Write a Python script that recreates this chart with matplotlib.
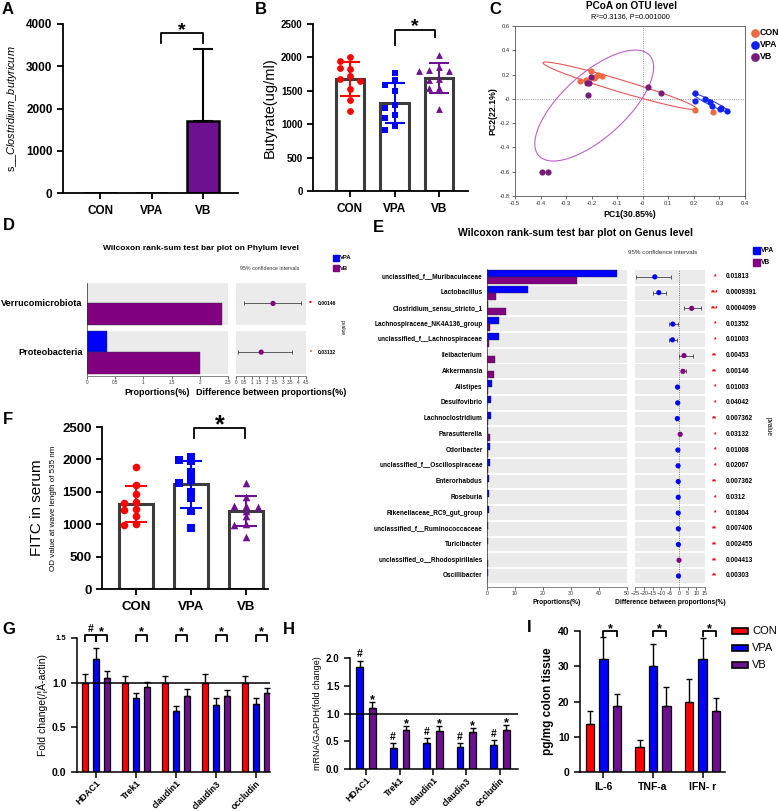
import numpy as np
import matplotlib
matplotlib.use("Agg")
import matplotlib.pyplot as plt
import matplotlib.transforms as mtransforms

plt.rcParams['font.family'] = ['Liberation Sans', 'DejaVu Sans']
plt.rcParams['mathtext.fontset'] = 'custom'
plt.rcParams['mathtext.rm'] = 'Liberation Sans'
plt.rcParams['mathtext.it'] = 'Liberation Sans:italic'

W, H = 778, 811
RED = '#FF0000'
BLUE = '#0000FF'
PURPLE = '#6E1190'
STAMP_PURPLE = '#800080'
DARK = '#3C3C3C'

# ---- data ----
groups = ['CON', 'VPA', 'VB']

# A: s__Clostridium_butyricum
clos_mean = [0, 0, 1700]
clos_sd = [0, 0, 1700]

# B: butyrate (ug/ml)
but_con = [2000, 1945, 1825, 1845, 1720, 1675, 1645, 1520, 1360, 1200]
but_vpa = [1770, 1660, 1585, 1500, 1285, 1240, 1140, 1090, 980, 915]
but_vb = [2035, 1860, 1810, 1800, 1800, 1670, 1660, 1535, 1535, 1230]

# C: PCoA
pc_con_x = [-0.244, -0.224, -0.201, -0.192, -0.176, -0.158, -0.186, 0.205, 0.276]
pc_con_y = [0.145, 0.159, 0.227, 0.173, 0.200, 0.189, 0.180, -0.090, -0.110]
pc_vpa_x = [0.205, 0.205, 0.244, 0.263, 0.269, 0.301, 0.308, 0.331]
pc_vpa_y = [0.049, -0.014, -0.005, -0.022, -0.058, -0.082, -0.074, -0.104]
pc_vb_x = [-0.201, -0.218, -0.209, -0.214, 0.022, 0.071, -0.394, -0.372]
pc_vb_y = [0.184, 0.129, 0.134, 0.033, 0.101, 0.049, -0.605, -0.605]
# ellipse: centre, vector to right-most point, vertical half-span
ell_center = [(-0.09, 0.108), (0.268, -0.034), (-0.19, -0.055)]
ell_major = [(0.30, -0.188), (0.072, -0.0755), (0.2325, 0.315)]
ell_vert = [0.052, 0.022, 0.331]

# D: phylum level
phyla = ['Verrucomicrobiota', 'Proteobacteria']
phy_vpa = [0.0, 0.36]
phy_vb = [2.39, 2.0]
phy_diff = [2.38, 1.62]
phy_lo = [0.50, 0.15]
phy_hi = [4.20, 3.60]
phy_p = [0.00146, 0.03132]

# E: genus level
genera = ['unclassified_f__Muribaculaceae', 'Lactobacillus', 'Clostridium_sensu_stricto_1',
          'Lachnospiraceae_NK4A136_group', 'unclassified_f__Lachnospiraceae', 'Ileibacterium',
          'Akkermansia', 'Alistipes', 'Desulfovibrio', 'Lachnoclostridium', 'Parasutterella',
          'Odoribacter', 'unclassified_f__Oscillospiraceae', 'Enterorhabdus', 'Roseburia',
          'Rikenellaceae_RC9_gut_group', 'unclassified_f__Ruminococcaceae', 'Turicibacter',
          'unclassified_o__Rhodospirillales', 'Oscillibacter']
gen_vpa = [46.4, 14.8, 0.2, 4.3, 4.2, 0.1, 0.1, 1.8, 1.4, 1.5, 0.3, 1.1, 0.9, 0.8, 0.7, 0.7, 0.4, 0.3, 0.1, 0.2]
gen_vb = [32.0, 3.1, 6.9, 1.0, 0.7, 2.8, 2.4, 0.5, 0.1, 0.2, 1.2, 0.3, 0.2, 0.1, 0.1, 0.05, 0.05, 0.02, 0.2, 0.05]
gen_diff = [-13.7, -11.4, 7.4, -3.4, -3.6, 3.0, 2.4, -0.7, -0.6, -0.8, 0.8, -0.5, -0.4, -0.3, -0.3, -0.3,
            -0.2, -0.2, 0.15, -0.15]
gen_lo = [-24.6, -15.0, 2.9, -5.6, -5.8, 0.4, 1.2, -1.2, -1.0, -1.3, 0.4, -0.9, -0.7, -0.6, -0.5, -0.5,
          -0.4, -0.3, 0.05, -0.3]
gen_hi = [-4.6, -7.4, 12.6, -0.6, -1.0, 8.4, 4.2, -0.3, -0.2, -0.3, 1.2, -0.1, -0.1, -0.05, -0.1, -0.1,
          -0.05, -0.05, 0.3, -0.02]
gen_p = [0.01813, 0.0009391, 0.0004099, 0.01352, 0.01003, 0.00453, 0.00146, 0.01003, 0.04042, 0.007362,
         0.03132, 0.01008, 0.02067, 0.007362, 0.0312, 0.01804, 0.007406, 0.002455, 0.004413, 0.00303]

# F: FITC in serum
fitc_con = [1880, 1600, 1460, 1340, 1330, 1230, 1220, 1120, 1000, 980]
fitc_vpa = [2040, 1990, 1970, 1810, 1680, 1640, 1500, 1400, 1210, 940]
fitc_vb = [1640, 1420, 1280, 1280, 1270, 1200, 1120, 1000, 990, 810]

# G: protein fold change
genes = ['HDAC1', 'Trek1', 'claudin1', 'claudin3', 'occludin']
g_con = [1.0, 1.0, 1.0, 1.0, 1.0]
g_con_err = [0.10, 0.07, 0.07, 0.10, 0.08]
g_vpa = [1.27, 0.83, 0.68, 0.75, 0.76]
g_vpa_err = [0.12, 0.05, 0.06, 0.08, 0.07]
g_vb = [1.05, 0.95, 0.85, 0.85, 0.88]
g_vb_err = [0.08, 0.06, 0.08, 0.07, 0.06]

# H: mRNA fold change
h_vpa = [1.83, 0.37, 0.46, 0.40, 0.43]
h_vpa_err = [0.12, 0.10, 0.09, 0.07, 0.09]
h_vb = [1.10, 0.70, 0.69, 0.67, 0.71]
h_vb_err = [0.11, 0.07, 0.08, 0.07, 0.08]

# I: cytokines
cytokines = ['IL-6', 'TNF-a', 'IFN- r']
i_con = [13.5, 7.0, 20.0]
i_con_err = [3.7, 2.2, 6.3]
i_vpa = [32.0, 30.0, 32.0]
i_vpa_err = [6.4, 6.2, 6.1]
i_vb = [18.7, 18.8, 17.4]
i_vb_err = [3.5, 5.4, 3.6]


# ---- helpers ----
fig = plt.figure(figsize=(W / 100, H / 100), dpi=100)


def fx(x):
    return x / W


def fy(y):
    return 1 - y / H


def add_ax(x0, y0, x1, y1):
    return fig.add_axes([x0 / W, 1 - y1 / H, (x1 - x0) / W, (y1 - y0) / H])


def panel_label(ch, x, y):
    fig.text(fx(x), fy(y), ch, fontsize=12, fontweight='bold', va='top', ha='left')


def prism(ax, lw=1.3, length=4):
    for s in ['top', 'right']:
        ax.spines[s].set_visible(False)
    for s in ['left', 'bottom']:
        ax.spines[s].set_linewidth(lw)
    ax.tick_params(direction='out', width=lw, length=length)


def mark(ax, x, y, text, fs, d_px, centre=0.575):
    # put a star / hash so that its middle sits d_px pixels above (x, y)
    off = d_px * 0.72 - centre * fs
    ax.annotate(text, (x, y), xytext=(0, off), textcoords='offset points', ha='center', va='baseline',
                fontsize=fs, fontweight='bold', annotation_clip=False)


def bracket(ax, x1, x2, y, yl, yr, text, fs=14, d_px=9, centre=0.575):
    ax.plot([x1, x1, x2, x2], [yl, y, y, yr], color='black', lw=1.3, clip_on=False)
    mark(ax, (x1 + x2) / 2, y, text, fs, d_px, centre)


def swarm(vals, tol, step):
    placed, offs = [], []
    for v in vals:
        for k in [0, -1, 1, -2, 2]:
            if all(abs(v - pv) >= tol or pk != k for pv, pk in placed):
                break
        placed.append((v, k))
        offs.append(k * step)
    return np.array(offs)


def dot_bar(ax, data, width, step, tol, ms, cap):
    markers = ['o', 's', '^']
    colors = [RED, BLUE, PURPLE]
    for i, vals in enumerate(data):
        vals = np.asarray(vals, float)
        mean, sd = vals.mean(), vals.std(ddof=1)
        ax.bar(i, mean, width=width, color='white', edgecolor=DARK, linewidth=2.2, zorder=1)
        ax.scatter(i + swarm(vals, tol, step), vals, marker=markers[i], color=colors[i], s=ms,
                   zorder=3, linewidths=0)
        ax.errorbar(i, mean, yerr=sd, color=colors[i], capsize=cap, capthick=1.5, elinewidth=1.5, zorder=4)


def stars(p):
    return '***' if p < 0.001 else ('**' if p < 0.01 else '*')


def stamp(ax_b, ax_d, names, vpa, vb, diff, lo, hi, pv, fs_name, fs_tick, fs_p, p_x, star_x, pl_x):
    n = len(names)
    y = np.arange(n)
    for ax in (ax_b, ax_d):
        for i in y:
            ax.axhspan(i - 0.44, i + 0.44, color='#EBEBEB', lw=0, zorder=0)
        for s in ['top', 'right', 'left']:
            ax.spines[s].set_visible(False)
        ax.spines['bottom'].set_linewidth(0.5)
        ax.spines['bottom'].set_color('#555555')
        ax.tick_params(axis='x', labelsize=fs_tick, length=2, width=0.5, pad=1, colors='#333333')
        ax.set_yticks([])
    ax_b.axvline(0, color='#333333', lw=0.5)
    ax_b.barh(y - 0.22, vpa, height=0.44, color=BLUE, edgecolor='#333333', lw=0.3)
    ax_b.barh(y + 0.22, vb, height=0.44, color=STAMP_PURPLE, edgecolor='#333333', lw=0.3)
    trb = mtransforms.blended_transform_factory(ax_b.transAxes, ax_b.transData)
    for i in y:
        ax_b.text(-0.03, i, names[i], transform=trb, ha='right', va='center', fontsize=fs_name,
                  fontweight='bold')
    diff = np.asarray(diff)
    cols = [STAMP_PURPLE if d > 0 else BLUE for d in diff]
    ax_d.errorbar(diff, y, xerr=[diff - np.asarray(lo), np.asarray(hi) - diff], fmt='none',
                  ecolor='#444444', elinewidth=0.6, capsize=1.5, capthick=0.6, zorder=2)
    ax_d.scatter(diff, y, color=cols, s=14, zorder=3, linewidths=0)
    tr = mtransforms.blended_transform_factory(ax_d.transAxes, ax_d.transData)
    for i in y:
        ax_d.text(star_x, i, stars(pv[i]), transform=tr, color=RED, fontsize=fs_p, fontweight='bold',
                  ha='center', va='center')
        ax_d.text(p_x, i, '%g' % pv[i], transform=tr, fontsize=fs_p, fontweight='bold',
                  ha='left', va='center')
    ax_d.text(pl_x, (n - 1) / 2, 'pvalue', transform=tr, rotation=270, fontsize=fs_p, ha='center', va='center')


def bold_ticks(ax):
    for tl in ax.get_xticklabels() + ax.get_yticklabels():
        tl.set_fontweight('bold')


# ---- A ----
panel_label('A', 2, 2)
ax = add_ax(63, 24, 238, 193)
prism(ax)
x = np.arange(3)
ax.bar(x, clos_mean, width=0.64, color=['white', 'white', PURPLE], edgecolor='black', linewidth=1.8)
ax.errorbar(2, clos_mean[2], yerr=[[0], [clos_sd[2]]], color='black', capsize=7, capthick=1.5, elinewidth=1.5)
ax.set_xlim(-0.72, 2.68)
ax.set_ylim(0, 4000)
ax.set_yticks(range(0, 4001, 1000))
ax.set_xticks(x, groups)
bold_ticks(ax)
ax.tick_params(axis='y', labelsize=8.5)
ax.tick_params(axis='x', labelsize=8.5, pad=5)
ax.set_ylabel(r's__$\mathit{Clostridium\_butyricum}$', fontsize=7.8, labelpad=5)
bracket(ax, 1.18, 2.0, 3790, 3550, 3550, '*', fs=14, d_px=9)

# ---- B ----
panel_label('B', 255, 2)
ax = add_ax(313, 24, 468, 191)
prism(ax)
dot_bar(ax, [but_con, but_vpa, but_vb], width=0.63, step=0.22, tol=90, ms=24, cap=7)
ax.set_xlim(-0.83, 2.65)
ax.set_ylim(0, 2500)
ax.set_yticks(range(0, 2501, 500))
ax.set_xticks(x, groups)
bold_ticks(ax)
ax.tick_params(axis='y', labelsize=7)
ax.tick_params(axis='x', labelsize=8.5, pad=5)
ax.set_ylabel('Butyrate(ug/ml)', fontsize=10.5, labelpad=3)
bracket(ax, 1.0, 1.91, 2410, 2186, 2305, '*', fs=14, d_px=10)

# ---- C ----
panel_label('C', 489, 2)
ax = add_ax(515, 26, 745, 196)
for s in ax.spines.values():
    s.set_linewidth(0.6)
    s.set_color('#555555')
ax.axhline(0, color='#777777', lw=0.6, ls=':')
ax.axvline(0, color='#777777', lw=0.6, ls=':')
t = np.linspace(0, 2 * np.pi, 300)
pc_cols = ['#EE6A40', '#1020F0', '#7A1A7A']
ell_cols = ['#EE5555', '#3344EE', '#C060C8']
for (cx, cy), (ux, uy), hv, ec in zip(ell_center, ell_major, ell_vert, ell_cols):
    ax.plot(cx + ux * np.cos(t), cy + uy * np.cos(t) + hv * np.sin(t), color=ec, lw=0.8)
for xs, ys, c, lab in zip([pc_con_x, pc_vpa_x, pc_vb_x], [pc_con_y, pc_vpa_y, pc_vb_y], pc_cols, groups):
    ax.scatter(xs, ys, color=c, s=20, linewidths=0, label=lab, zorder=3)
ax.set_xlim(-0.5, 0.4)
ax.set_ylim(-0.8, 0.6)
xt = np.round(np.arange(-0.5, 0.41, 0.1), 1)
yt = np.round(np.arange(-0.8, 0.61, 0.2), 1)
ax.set_xticks(xt, ['%g' % v for v in xt])
ax.set_yticks(yt, ['%g' % v for v in yt])
ax.tick_params(labelsize=4.2, length=2, width=0.5, pad=1.5, colors='#333333')
ax.set_xlabel('PC1(30.85%)', fontsize=6.3, fontweight='bold', labelpad=3)
ax.set_ylabel('PC2(22.1%)', fontsize=6.3, fontweight='bold', labelpad=2)
ax.set_title('R²=0.3136, P=0.001000', fontsize=5.3, pad=6)
fig.text(fx(632), fy(6), 'PCoA on OTU level', fontsize=7.2, fontweight='bold', ha='center', va='center')
leg = ax.legend(loc='upper left', bbox_to_anchor=(1.0, 1.02), frameon=False, fontsize=6.3,
                handletextpad=0.1, borderaxespad=0.2, labelspacing=0.35, markerscale=1.4, handlelength=1.0)
for txt in leg.get_texts():
    txt.set_fontweight('bold')

# ---- D ----
panel_label('D', 3, 218)
fig.text(fx(201), fy(248), 'Wilcoxon rank-sum test bar plot on Phylum level', fontsize=6, fontweight='bold',
         ha='center', va='center')
fig.text(fx(270), fy(268), '95% confidence intervals', fontsize=3.8, ha='center', va='center', color='#333333')
for yy, c, lab in [(258, BLUE, 'VPA'), (268, STAMP_PURPLE, 'VB')]:
    fig.patches.append(plt.Rectangle((fx(333), fy(yy + 3)), 6 / W, 6 / H, color=c, transform=fig.transFigure))
    fig.text(fx(340), fy(yy), lab, fontsize=4.2, fontweight='bold', va='center')
axb = add_ax(87, 283, 228, 376)
axd = add_ax(236, 283, 306, 376)
stamp(axb, axd, phyla, phy_vpa, phy_vb, phy_diff, phy_lo, phy_hi, phy_p,
      fs_name=6.6, fs_tick=3.3, fs_p=3.6, p_x=1.17, star_x=1.07, pl_x=1.52)
axb.set_xlim(0, 2.5)
axb.set_xticks(np.arange(0, 2.51, 0.5), ['%g' % v for v in np.arange(0, 2.51, 0.5)])
axb.set_ylim(1.49, -0.42)
axd.set_xlim(0, 4.5)
axd.set_xticks(np.arange(0, 4.51, 0.5), ['%g' % v for v in np.arange(0, 4.51, 0.5)])
axd.set_ylim(1.49, -0.42)
axb.set_xlabel('Proportions(%)', fontsize=6.5, fontweight='bold', labelpad=2)
axd.set_xlabel('Difference between proportions(%)', fontsize=6.5, fontweight='bold', labelpad=2)

# ---- E ----
panel_label('E', 373, 220)
fig.text(fx(575), fy(233), 'Wilcoxon rank-sum test bar plot on Genus level', fontsize=7.5, fontweight='bold',
         ha='center', va='center')
fig.text(fx(663), fy(252), '95% confidence intervals', fontsize=4.5, ha='center', va='center', color='#333333')
for yy, c, lab in [(250, BLUE, 'VPA'), (262, STAMP_PURPLE, 'VB')]:
    fig.patches.append(plt.Rectangle((fx(753), fy(yy + 3.5)), 7 / W, 7 / H, color=c, transform=fig.transFigure))
    fig.text(fx(761), fy(yy), lab, fontsize=4.8, fontweight='bold', va='center')
axb = add_ax(487, 269, 627, 587)
axd = add_ax(635, 269, 705, 587)
stamp(axb, axd, genera, gen_vpa, gen_vb, gen_diff, gen_lo, gen_hi, gen_p,
      fs_name=4.7, fs_tick=3.8, fs_p=4.7, p_x=1.29, star_x=1.14, pl_x=1.9)
axd.axvline(0, color='#555555', lw=0.6, ls=':', zorder=1)
axb.set_xlim(0, 50)
axb.set_xticks(range(0, 51, 10))
axd.set_xlim(-25, 15)
axd.set_xticks(range(-25, 16, 5))
axb.set_ylim(19.7, -0.5)
axd.set_ylim(19.7, -0.5)
axb.set_xlabel('Proportions(%)', fontsize=4.8, fontweight='bold', labelpad=2)
axd.set_xlabel('Difference between proportions(%)', fontsize=4.8, fontweight='bold', labelpad=2)

# ---- F ----
panel_label('F', 3, 412)
ax = add_ax(102, 427, 268, 589)
prism(ax)
dot_bar(ax, [fitc_con, fitc_vpa, fitc_vb], width=0.62, step=0.22, tol=70, ms=30, cap=8)
ax.set_xlim(-0.62, 2.4)
ax.set_ylim(0, 2500)
ax.set_yticks(range(0, 2501, 500))
ax.set_xticks(x, groups)
bold_ticks(ax)
ax.tick_params(axis='y', labelsize=9.5)
ax.tick_params(axis='x', labelsize=9.5, pad=5)
ax.text((37 - 102) / 166, 0.5, 'FITC in serum', transform=ax.transAxes, rotation=90,
        fontsize=11, ha='center', va='center')
ax.text((53 - 102) / 166, 0.5, 'OD value at wave length of 535 nm', transform=ax.transAxes, rotation=90,
        fontsize=5.8, ha='center', va='center')
bracket(ax, 1.05, 1.98, 2485, 2330, 2330, '*', fs=18, d_px=10)

# ---- G ----
panel_label('G', 2, 622)
ax = add_ax(77, 638, 270, 772)
prism(ax, lw=1.1)
xg = np.arange(len(genes))
for off, vals, errs, c in [(-0.275, g_con, g_con_err, RED), (0, g_vpa, g_vpa_err, BLUE),
                           (0.275, g_vb, g_vb_err, PURPLE)]:
    ax.bar(xg + off, vals, width=0.17, color=c, edgecolor='black', lw=0.9)
    ax.errorbar(xg + off, vals, yerr=[np.zeros(len(vals)), errs], fmt='none', ecolor='black',
                elinewidth=1, capsize=2.5, capthick=1)
ax.axhline(1.0, color='black', lw=1.1)
ax.set_xlim(-0.475, 4.35)
ax.set_ylim(0, 1.5)
ax.set_yticks([0, 0.5, 1.0, 1.5], ['0.0', '0.5', '1.0', '1.5'])
ax.set_xticks(xg, genes, rotation=45, ha='right', rotation_mode='anchor')
bold_ticks(ax)
ax.tick_params(axis='y', labelsize=7.5)
ax.tick_params(axis='x', labelsize=6.4, pad=1)
ax.get_yticklabels()[-1].set_fontsize(5.5)
ax.set_ylabel('Fold change(/¦Â-actin)', fontsize=7.5, labelpad=3)
bracket(ax, -0.275, 0, 1.53, 1.47, 1.47, '#', fs=7.5, d_px=7, centre=0.35)
for k in range(len(genes)):
    bracket(ax, k, k + 0.275, 1.53, 1.47, 1.47, '*', fs=9, d_px=7)

# ---- H ----
panel_label('H', 283, 622)
ax = add_ax(350, 658, 518, 769)
prism(ax, lw=1.1)
for off, vals, errs, c, sym in [(-0.19, h_vpa, h_vpa_err, BLUE, '#'), (0.19, h_vb, h_vb_err, PURPLE, '*')]:
    ax.bar(xg + off, vals, width=0.2, color=c, edgecolor='black', lw=0.9)
    ax.errorbar(xg + off, vals, yerr=[np.zeros(len(vals)), errs], fmt='none', ecolor='black',
                elinewidth=1, capsize=2.5, capthick=1)
    for k in xg:
        if sym == '#':
            mark(ax, xg[k] + off, vals[k] + errs[k], sym, 7.5, 7, centre=0.35)
        else:
            mark(ax, xg[k] + off, vals[k] + errs[k], sym, 9, 6)
ax.axhline(1.0, color='black', lw=1.1)
ax.set_xlim(-0.48, 4.54)
ax.set_ylim(0, 2.0)
ax.set_yticks([0, 0.5, 1.0, 1.5, 2.0], ['0.0', '0.5', '1.0', '1.5', '2.0'])
ax.set_xticks(xg, genes, rotation=45, ha='right', rotation_mode='anchor')
bold_ticks(ax)
ax.tick_params(axis='y', labelsize=7)
ax.tick_params(axis='x', labelsize=6.4, pad=1)
ax.set_ylabel('mRNA/GAPDH(fold change)', fontsize=6.5, labelpad=3)

# ---- I ----
panel_label('I', 527, 620)
ax = add_ax(580, 631, 725, 772)
prism(ax, lw=1.1)
xi = np.arange(len(cytokines))
for off, vals, errs, c in [(-0.27, i_con, i_con_err, RED), (0, i_vpa, i_vpa_err, BLUE),
                           (0.27, i_vb, i_vb_err, PURPLE)]:
    ax.bar(xi + off, vals, width=0.17, color=c, edgecolor='black', lw=0.9)
    ax.errorbar(xi + off, vals, yerr=[np.zeros(len(vals)), errs], fmt='none', ecolor='black',
                elinewidth=1, capsize=2.5, capthick=1)
for k in xi:
    bracket(ax, k, k + 0.27, 40.1, 38.7, 38.7, '*', fs=9, d_px=6)
ax.set_xlim(-0.47, 2.45)
ax.set_ylim(0, 40)
ax.set_yticks(range(0, 41, 10))
ax.set_xticks(xi, cytokines)
bold_ticks(ax)
ax.tick_params(axis='both', labelsize=7.5)
ax.set_ylabel('pg/mg colon tissue', fontsize=8.5, fontweight='bold', labelpad=3)
for yy, c, lab in zip([631, 648, 665], [RED, BLUE, PURPLE], groups):
    fig.patches.append(plt.Rectangle((fx(732), fy(yy + 3)), 16 / W, 6 / H, facecolor=c, edgecolor='black',
                                     lw=1.2, transform=fig.transFigure))
    fig.text(fx(752), fy(yy), lab, fontsize=8, va='center', ha='left')

fig.savefig('out.png', dpi=100)
